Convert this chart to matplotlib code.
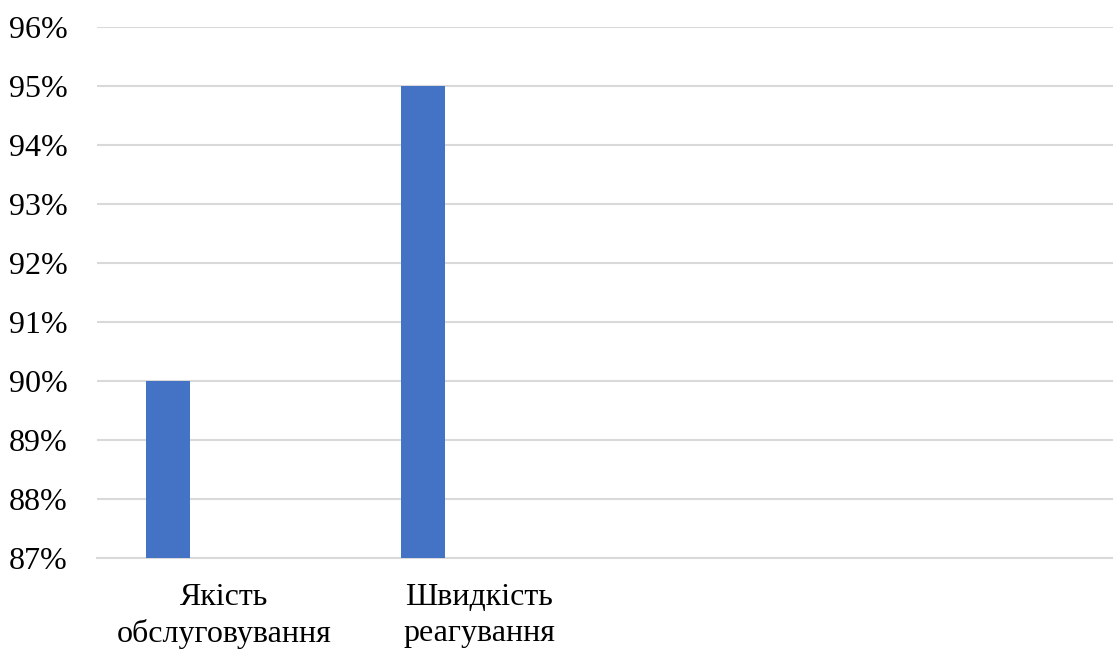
import matplotlib

matplotlib.use("Agg")
import matplotlib.pyplot as plt
from matplotlib.ticker import FuncFormatter, MultipleLocator

categories = ["Якість\nобслуговування", "Швидкість\nреагування"]
values = [0.90, 0.95]
n_slots = 4  # the axis has room for four categories, two are empty

plt.rcParams["font.family"] = ["Liberation Serif", "DejaVu Serif"]

fig = plt.figure(figsize=(11.13, 6.5), dpi=100)
ax = fig.add_axes([97 / 1113, 1 - 558 / 650, 1020 / 1113, 531 / 650])

x = list(range(len(categories)))
ax.bar([i - 0.2216 for i in x], values, width=0.1725, color="#4472C4", zorder=3)

ax.set_xlim(-0.5, n_slots - 0.5)
ax.set_ylim(0.87, 0.96)
ax.yaxis.set_major_locator(MultipleLocator(0.01))
ax.yaxis.set_major_formatter(FuncFormatter(lambda v, _: f"{round(v * 100)}%"))
ax.set_xticks(x)
ax.set_xticklabels(categories, fontsize=23, linespacing=1.3)
ax.tick_params(axis="y", labelsize=23, length=0, pad=21)
ax.tick_params(axis="x", length=0, pad=18)

ax.grid(axis="y", color="#d9d9d9", linewidth=1.5, zorder=0)
for side in ["top", "right", "left"]:
    ax.spines[side].set_visible(False)
ax.spines["bottom"].set_color("#d9d9d9")
ax.spines["bottom"].set_linewidth(1.5)

fig.savefig("out.png", dpi=100)
